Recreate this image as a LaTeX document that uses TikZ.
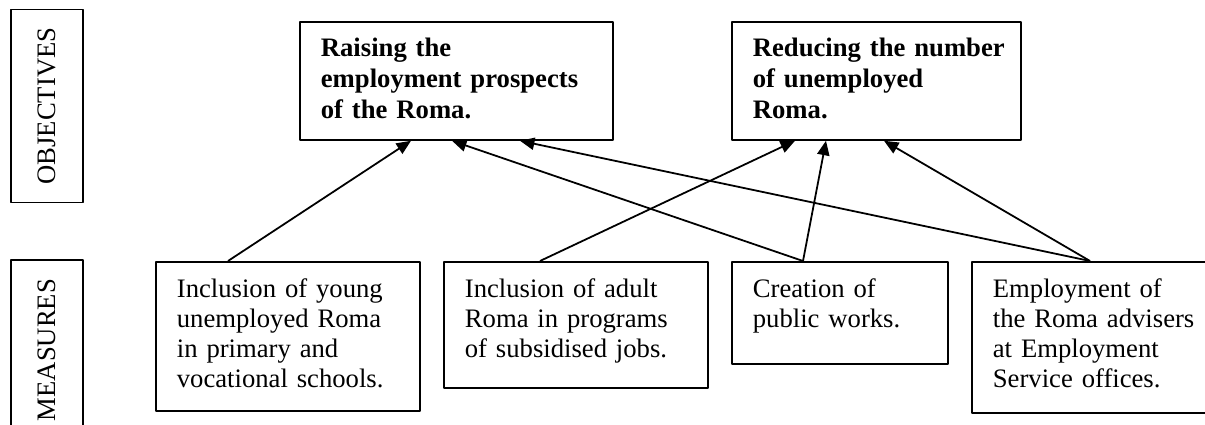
\documentclass[tikz,border=0pt]{standalone}
\usepackage{fontspec}
\setmainfont{Liberation Serif}
\usetikzlibrary{arrows.meta}
\tikzset{
	frame/.style={draw, line width=0.8pt, inner sep=0pt},
	sidelbl/.style={frame, rotate=90, minimum height=32.4pt, font=\fontsize{12pt}{14pt}\selectfont},
	objbox/.style 2 args={frame, anchor=north west, align=left, inner xsep=9.45pt, text width=#1, text height=15.75pt, text depth=#2, font=\fontsize{12pt}{13.9pt}\selectfont\bfseries},
	measbox/.style 2 args={frame, anchor=north west, align=left, inner xsep=9.45pt, text width=#1, text height=16.2pt, text depth=#2, font=\fontsize{12pt}{13.4pt}\selectfont},
	link/.style={line width=0.8pt, -{Triangle[length=6.5pt,width=5.5pt]}}
}
\begin{document}
		\begin{tikzpicture}[x=0.45pt, y=-0.45pt, line join=round]
			\useasboundingbox (0,0) rectangle (1205,425);
			\node[sidelbl, minimum width=86.85pt] (objlbl) at (47,106) {OBJECTIVES};
			\node[sidelbl, minimum width=81pt] (measlbl) at (47,350) {MEASURES};
			\node[objbox={121.95pt}{37.35pt}] (raise) at (299,21) {Raising the\\employment prospects\\of the Roma.};
			\node[objbox={111.15pt}{37.35pt}] (reduce) at (731,21) {\mbox{Reducing the number}\\of unemployed\\Roma.};
			\node[measbox={99.9pt}{50.85pt}] (young) at (155,261) {Inclusion of young\\unemployed Roma\\in primary and\\vocational schools.};
			\node[measbox={99.9pt}{40.5pt}] (adult) at (443,261) {Inclusion of adult\\Roma in programs\\of subsidised jobs.};
			\node[measbox={78.3pt}{29.7pt}] (works) at (731,261) {Creation of\\public works.};
			\node[measbox={99.9pt}{51.75pt}] (advis) at (971,261) {Employment of\\the Roma advisers\\at Employment\\Service offices.};
			\draw[link] ([xshift=32.85pt]young.north west) -- ([xshift=50.4pt]raise.south west);
			\draw[link] ([xshift=43.65pt]adult.north west) -- ([xshift=28.8pt]reduce.south west);
			\draw[link] ([xshift=32.4pt]works.north west) -- ([xshift=68.85pt]raise.south west);
			\draw[link] ([xshift=32.4pt]works.north west) -- ([xshift=42.75pt]reduce.south west);
			\draw[link] ([xshift=53.55pt]advis.north west) -- ([xshift=99.45pt]raise.south west);
			\draw[link] ([xshift=53.55pt]advis.north west) -- ([xshift=68.85pt]reduce.south west);
		\end{tikzpicture}
\end{document}
